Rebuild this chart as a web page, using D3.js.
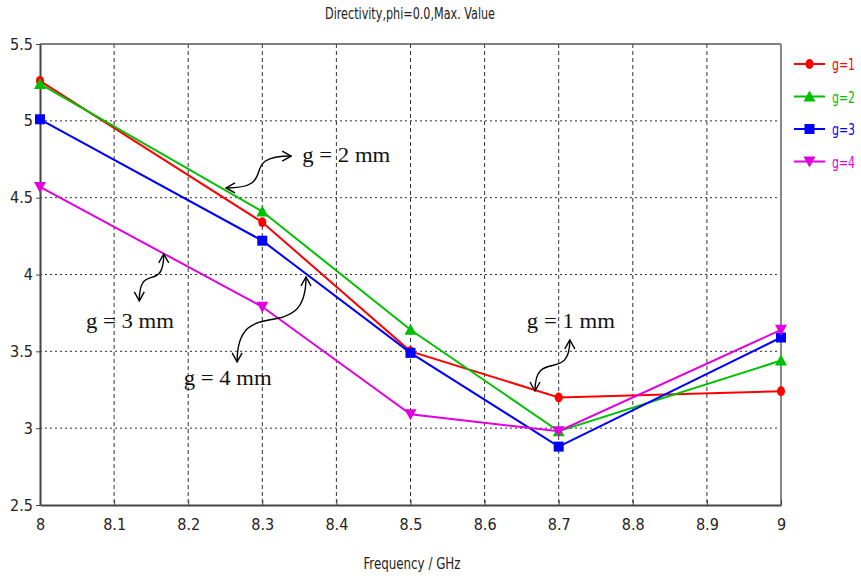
<!DOCTYPE html>
<html><head><meta charset="utf-8">
<script src="https://cdn.jsdelivr.net/npm/d3@7"></script>
<style>body{margin:0;background:#fff}svg{display:block}</style>
</head><body>
<script>
const freqs = [8, 8.3, 8.5, 8.7, 9];
const g1 = [5.26, 4.34, 3.50, 3.20, 3.24];
const g2 = [5.24, 4.41, 3.64, 2.98, 3.44];
const g3 = [5.01, 4.22, 3.49, 2.88, 3.59];
const g4 = [4.57, 3.79, 3.09, 2.98, 3.64];
const seriesNames = ["g=1", "g=2", "g=3", "g=4"];
const seriesColors = ["#ff0000", "#00c000", "#0000ff", "#e000e0"];
const seriesMarkers = ["circle", "triangleUp", "square", "triangleDown"];
const xTicks = [8, 8.1, 8.2, 8.3, 8.4, 8.5, 8.6, 8.7, 8.8, 8.9, 9];
const yTicks = [2.5, 3, 3.5, 4, 4.5, 5, 5.5];
// annotation label anchor (freq, value) and double-arrow end points (freq, value)
const annotations = [
  {text: "g = 2 mm", x: 8.354, y: 4.73, from: [8.251, 4.563], to: [8.339, 4.771], orient: "h"},
  {text: "g = 3 mm", x: 8.062, y: 3.65, from: [8.167, 4.134], to: [8.134, 3.828], orient: "v"},
  {text: "g = 4 mm", x: 8.194, y: 3.28, from: [8.359, 3.984], to: [8.266, 3.431], orient: "v"},
  {text: "g = 1 mm", x: 8.657, y: 3.65, from: [8.715, 3.574], to: [8.668, 3.242], orient: "v"}
];
const allSeries = [g1, g2, g3, g4];

const W = 861, H = 579;
const m = {l: 40, r: 80, t: 44, b: 74};
const svg = d3.select("body").append("svg").attr("width", W).attr("height", H);
const x = d3.scaleLinear().domain([8, 9]).range([m.l, W - m.r]);
const y = d3.scaleLinear().domain([2.5, 5.5]).range([H - m.b, m.t]);
const font = "'DejaVu Sans Condensed', 'Liberation Sans Narrow', sans-serif";

// grid
svg.append("g").selectAll("line").data(xTicks.slice(1, -1)).join("line")
  .attr("x1", d => x(d)).attr("x2", d => x(d)).attr("y1", y(5.5)).attr("y2", y(2.5))
  .attr("stroke", "#333").attr("stroke-width", 1).attr("stroke-dasharray", "4,3");
svg.append("g").selectAll("line").data(yTicks.slice(1, -1)).join("line")
  .attr("x1", x(8)).attr("x2", x(9)).attr("y1", d => y(d)).attr("y2", d => y(d))
  .attr("stroke", "#333").attr("stroke-width", 1).attr("stroke-dasharray", "2,3");

// frame
svg.append("line").attr("x1", x(8)).attr("x2", x(9)).attr("y1", y(5.5)).attr("y2", y(5.5)).attr("stroke", "#555").attr("stroke-width", 1.5);
svg.append("line").attr("x1", x(9)).attr("x2", x(9)).attr("y1", y(5.5)).attr("y2", y(2.5)).attr("stroke", "#888").attr("stroke-width", 2);

// axes
const xAxis = svg.append("g").attr("transform", `translate(0,${y(2.5)})`)
  .call(d3.axisBottom(x).tickValues(xTicks).tickFormat(d3.format("")).tickSizeInner(-5).tickSizeOuter(0).tickPadding(14));
const yAxis = svg.append("g").attr("transform", `translate(${x(8)},0)`)
  .call(d3.axisLeft(y).tickValues(yTicks).tickFormat(d3.format("")).tickSizeInner(4).tickSizeOuter(0).tickPadding(3));
[xAxis, yAxis].forEach(a => {
  a.select(".domain").attr("stroke", "#444").attr("stroke-width", 2);
  a.selectAll(".tick line").attr("stroke", "#444");
  a.selectAll("text").attr("font-family", font).attr("font-size", 16).attr("fill", "#222");
});

// title and label
svg.append("text").attr("x", 410).attr("y", 19).attr("text-anchor", "middle")
  .attr("font-family", font).attr("font-size", 15).attr("fill", "#222")
  .attr("textLength", 170).attr("lengthAdjust", "spacingAndGlyphs").text("Directivity,phi=0.0,Max. Value");
svg.append("text").attr("x", 412).attr("y", 569).attr("text-anchor", "middle")
  .attr("font-family", font).attr("font-size", 15).attr("fill", "#222")
  .attr("textLength", 97).attr("lengthAdjust", "spacingAndGlyphs").text("Frequency / GHz");

function marker(g, type, cx, cy, color) {
  if (type === "circle") g.append("ellipse").attr("cx", cx).attr("cy", cy).attr("rx", 4).attr("ry", 5).attr("fill", color);
  else if (type === "square") g.append("rect").attr("x", cx - 5).attr("y", cy - 5).attr("width", 10).attr("height", 10).attr("fill", color);
  else if (type === "triangleUp") g.append("path").attr("d", `M${cx},${cy-6}L${cx+6},${cy+5}L${cx-6},${cy+5}Z`).attr("fill", color);
  else g.append("path").attr("d", `M${cx},${cy+6}L${cx+6},${cy-5}L${cx-6},${cy-5}Z`).attr("fill", color);
}

const line = d3.line().x(d => x(d[0])).y(d => y(d[1]));
allSeries.forEach((vals, i) => {
  const pts = freqs.map((f, j) => [f, vals[j]]);
  const g = svg.append("g");
  g.append("path").attr("d", line(pts)).attr("fill", "none").attr("stroke", seriesColors[i]).attr("stroke-width", 2);
  pts.forEach(p => marker(g, seriesMarkers[i], x(p[0]), y(p[1]), seriesColors[i]));
});

// legend
seriesNames.forEach((n, i) => {
  const ly = 64 + i * 32.5;
  const g = svg.append("g");
  g.append("line").attr("x1", 794).attr("x2", 825).attr("y1", ly).attr("y2", ly).attr("stroke", seriesColors[i]).attr("stroke-width", 2);
  marker(g, seriesMarkers[i], 809.5, ly, seriesColors[i]);
  g.append("text").attr("x", 832).attr("y", ly + 6).attr("font-family", font).attr("font-size", 16)
    .attr("textLength", 23).attr("lengthAdjust", "spacingAndGlyphs")
    .attr("fill", seriesColors[i]).text(n);
});

// annotations
const defs = svg.append("defs");
defs.append("marker").attr("id", "ah").attr("viewBox", "0 0 12 12").attr("refX", 11).attr("refY", 6)
  .attr("markerWidth", 12).attr("markerHeight", 12).attr("orient", "auto-start-reverse").attr("markerUnits", "userSpaceOnUse")
  .append("path").attr("d", "M2,1L11,6L2,11").attr("fill", "none").attr("stroke", "#000").attr("stroke-width", 1.4);
annotations.forEach(a => {
  svg.append("text").attr("x", x(a.x)).attr("y", y(a.y)).attr("font-family", "'Liberation Serif', 'Times New Roman', serif")
    .attr("font-size", 20).attr("fill", "#111").attr("textLength", 88).attr("lengthAdjust", "spacingAndGlyphs").text(a.text);
  const p0 = [x(a.from[0]), y(a.from[1])], p1 = [x(a.to[0]), y(a.to[1])];
  const dx = p1[0] - p0[0], dy = p1[1] - p0[1];
  const k = 0.85;
  const c1 = a.orient === "h" ? [p0[0] + dx * k, p0[1]] : [p0[0], p0[1] + dy * k];
  const c2 = a.orient === "h" ? [p1[0] - dx * k, p1[1]] : [p1[0], p1[1] - dy * k];
  const path = `M${p0[0]},${p0[1]} C${c1[0]},${c1[1]} ${c2[0]},${c2[1]} ${p1[0]},${p1[1]}`;
  svg.append("path").attr("d", path).attr("fill", "none").attr("stroke", "#000").attr("stroke-width", 1.4)
    .attr("marker-start", "url(#ah)").attr("marker-end", "url(#ah)");
});
</script>
</body></html>
